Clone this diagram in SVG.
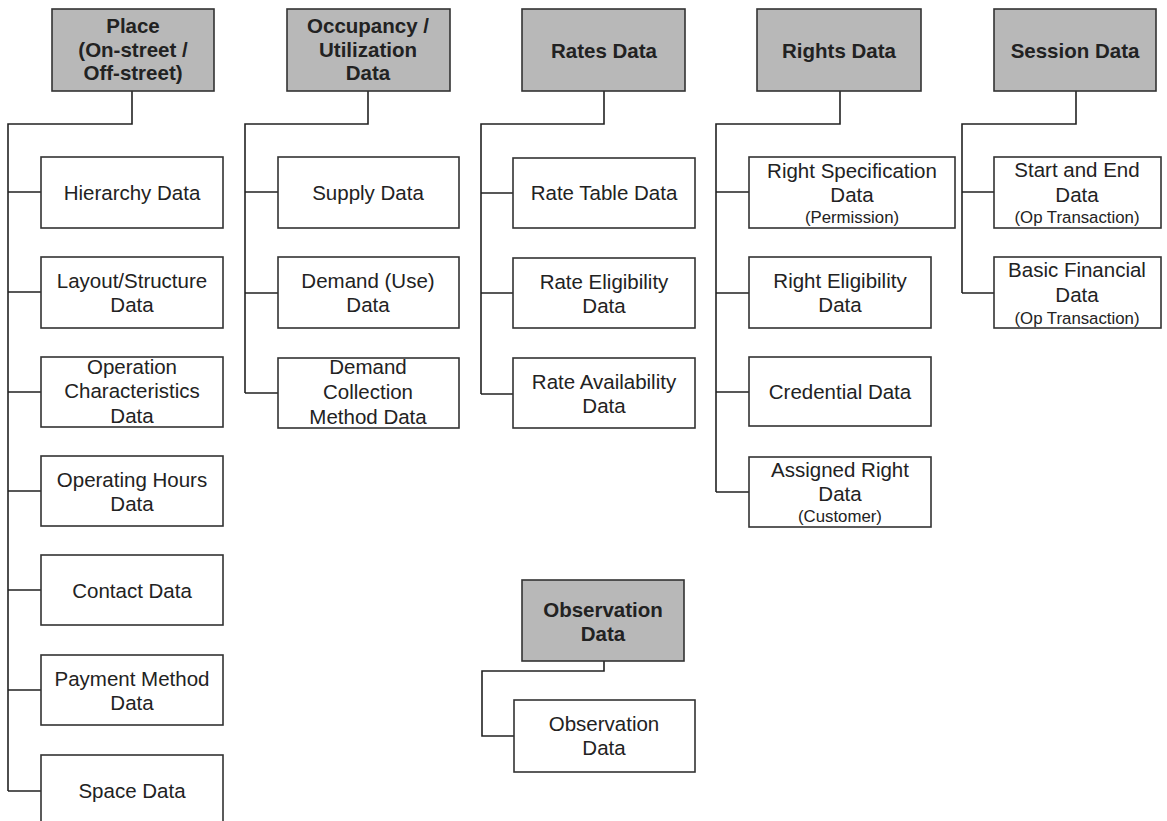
<svg xmlns="http://www.w3.org/2000/svg" width="1167" height="821" viewBox="0 0 1167 821">
  <style>
    .hdr rect { fill: #b8b8b8; stroke: #333; stroke-width: 1.6; }
    .leaf rect { fill: #fff; stroke: #333; stroke-width: 1.6; }
    text { font-family: "Liberation Sans", Arial, sans-serif; fill: #222; text-anchor: middle; }
    .hdr text { font-size: 20.5px; font-weight: bold; }
    .leaf text { font-size: 20.5px; }
    .leaf text .sm { font-size: 16.8px; }
    #connectors path { fill: none; stroke: #222; stroke-width: 1.6; }
  </style>
  <rect width="1167" height="821" fill="#fff"/>

  <!-- tree connectors -->
  <g id="connectors">
    <!-- Place -->
    <path d="M132 91 V124 H8 V791"/>
    <path d="M8 192 H41 M8 292 H41 M8 392 H41 M8 491 H41 M8 590 H41 M8 690 H41 M8 791 H41"/>
    <!-- Occupancy / Utilization -->
    <path d="M368 91 V124 H245 V393"/>
    <path d="M245 192 H278 M245 293 H278 M245 393 H278"/>
    <!-- Rates -->
    <path d="M604 91 V124 H481 V394"/>
    <path d="M481 193 H513 M481 293 H513 M481 394 H513"/>
    <!-- Rights -->
    <path d="M840 91 V124 H716 V492"/>
    <path d="M716 192 H749 M716 293 H749 M716 392 H749 M716 492 H749"/>
    <!-- Session -->
    <path d="M1076 91 V124 H962 V293"/>
    <path d="M962 192 H994 M962 293 H994"/>
    <!-- Observation -->
    <path d="M604 661 V671 H482 V736 H514"/>
  </g>

  <!-- Place column -->
  <g id="place" class="hdr">
    <rect x="52" y="9" width="162" height="82"/>
    <text x="133" y="33">Place</text>
    <text x="133" y="57">(On-street /</text>
    <text x="133" y="80">Off-street)</text>
  </g>
  <g id="hierarchy" class="leaf">
    <rect x="41" y="157" width="182" height="71"/>
    <text x="132" y="200">Hierarchy Data</text>
  </g>
  <g id="layout" class="leaf">
    <rect x="41" y="257" width="182" height="71"/>
    <text x="132" y="288">Layout/Structure</text>
    <text x="132" y="312">Data</text>
  </g>
  <g id="operation" class="leaf">
    <rect x="41" y="357" width="182" height="70"/>
    <text x="132" y="374">Operation</text>
    <text x="132" y="398">Characteristics</text>
    <text x="132" y="423">Data</text>
  </g>
  <g id="hours" class="leaf">
    <rect x="41" y="456" width="182" height="70"/>
    <text x="132" y="487">Operating Hours</text>
    <text x="132" y="511">Data</text>
  </g>
  <g id="contact" class="leaf">
    <rect x="41" y="555" width="182" height="70"/>
    <text x="132" y="598">Contact Data</text>
  </g>
  <g id="payment" class="leaf">
    <rect x="41" y="655" width="182" height="70"/>
    <text x="132" y="686">Payment Method</text>
    <text x="132" y="710">Data</text>
  </g>
  <g id="space" class="leaf">
    <rect x="41" y="755" width="182" height="71"/>
    <text x="132" y="798">Space Data</text>
  </g>

  <!-- Occupancy / Utilization column -->
  <g id="occupancy" class="hdr">
    <rect x="287" y="9" width="163" height="82"/>
    <text x="368" y="33">Occupancy /</text>
    <text x="368" y="57">Utilization</text>
    <text x="368" y="80">Data</text>
  </g>
  <g id="supply" class="leaf">
    <rect x="278" y="157" width="181" height="71"/>
    <text x="368" y="200">Supply Data</text>
  </g>
  <g id="demand" class="leaf">
    <rect x="278" y="257" width="181" height="71"/>
    <text x="368" y="288">Demand (Use)</text>
    <text x="368" y="312">Data</text>
  </g>
  <g id="demand-collection" class="leaf">
    <rect x="278" y="358" width="181" height="70"/>
    <text x="368" y="374">Demand</text>
    <text x="368" y="399">Collection</text>
    <text x="368" y="424">Method Data</text>
  </g>

  <!-- Rates column -->
  <g id="rates" class="hdr">
    <rect x="522" y="9" width="163" height="82"/>
    <text x="604" y="58">Rates Data</text>
  </g>
  <g id="rate-table" class="leaf">
    <rect x="513" y="158" width="182" height="70"/>
    <text x="604" y="200">Rate Table Data</text>
  </g>
  <g id="rate-eligibility" class="leaf">
    <rect x="513" y="258" width="182" height="70"/>
    <text x="604" y="289">Rate Eligibility</text>
    <text x="604" y="313">Data</text>
  </g>
  <g id="rate-availability" class="leaf">
    <rect x="513" y="358" width="182" height="70"/>
    <text x="604" y="389">Rate Availability</text>
    <text x="604" y="413">Data</text>
  </g>

  <!-- Rights column -->
  <g id="rights" class="hdr">
    <rect x="757" y="9" width="164" height="82"/>
    <text x="839" y="58">Rights Data</text>
  </g>
  <g id="right-spec" class="leaf">
    <rect x="749" y="157" width="206" height="71"/>
    <text x="852" y="178">Right Specification</text>
    <text x="852" y="202">Data</text>
    <text x="852" y="223"><tspan class="sm">(Permission)</tspan></text>
  </g>
  <g id="right-eligibility" class="leaf">
    <rect x="749" y="257" width="182" height="71"/>
    <text x="840" y="288">Right Eligibility</text>
    <text x="840" y="312">Data</text>
  </g>
  <g id="credential" class="leaf">
    <rect x="749" y="357" width="182" height="69"/>
    <text x="840" y="399">Credential Data</text>
  </g>
  <g id="assigned-right" class="leaf">
    <rect x="749" y="457" width="182" height="70"/>
    <text x="840" y="477">Assigned Right</text>
    <text x="840" y="501">Data</text>
    <text x="840" y="522"><tspan class="sm">(Customer)</tspan></text>
  </g>

  <!-- Session column -->
  <g id="session" class="hdr">
    <rect x="994" y="9" width="162" height="82"/>
    <text x="1075" y="58">Session Data</text>
  </g>
  <g id="start-end" class="leaf">
    <rect x="994" y="157" width="167" height="71"/>
    <text x="1077" y="177">Start and End</text>
    <text x="1077" y="202">Data</text>
    <text x="1077" y="223"><tspan class="sm">(Op Transaction)</tspan></text>
  </g>
  <g id="basic-financial" class="leaf">
    <rect x="994" y="257" width="167" height="71"/>
    <text x="1077" y="277">Basic Financial</text>
    <text x="1077" y="302">Data</text>
    <text x="1077" y="324"><tspan class="sm">(Op Transaction)</tspan></text>
  </g>

  <!-- Observation -->
  <g id="observation" class="hdr">
    <rect x="522" y="580" width="162" height="81"/>
    <text x="603" y="617">Observation</text>
    <text x="603" y="641">Data</text>
  </g>
  <g id="observation-data" class="leaf">
    <rect x="514" y="700" width="181" height="72"/>
    <text x="604" y="731">Observation</text>
    <text x="604" y="755">Data</text>
  </g>
</svg>
